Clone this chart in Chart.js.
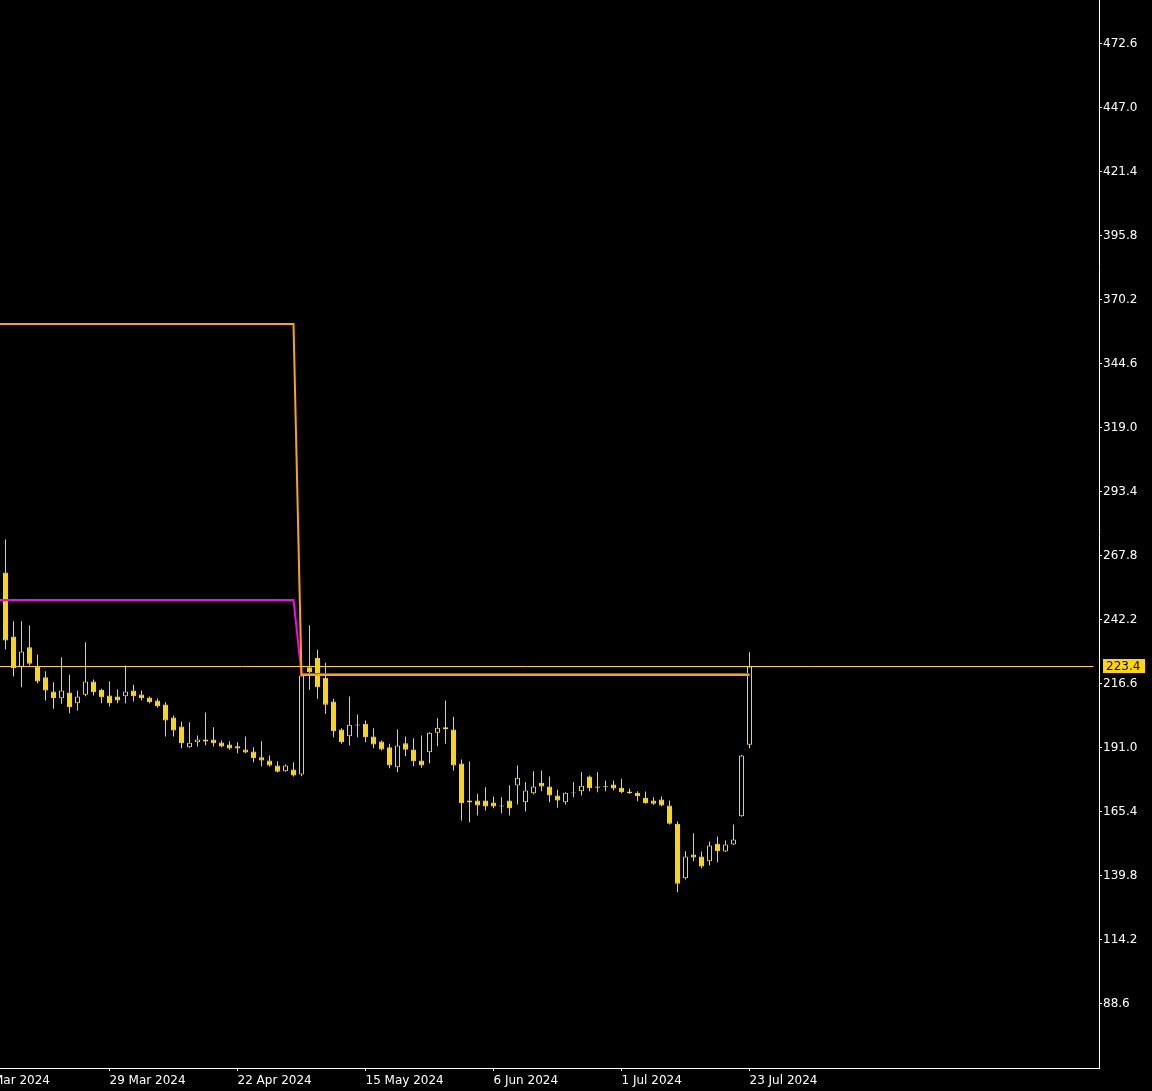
<!DOCTYPE html>
<html>
<head>
<meta charset="utf-8">
<script src="https://cdn.jsdelivr.net/npm/chart.js@4.4.1/dist/chart.umd.min.js"></script>
<style>
  html, body { margin: 0; padding: 0; background: #000; overflow: hidden; }
  #wrap { position: relative; width: 1152px; height: 1091px; overflow: hidden; }
  #chart { position: absolute; left: -40px; top: 0; }
</style>
</head>
<body>
<div id="wrap"><canvas id="chart" width="1192" height="1091"></canvas></div>
<script>
// daily candles, bar index 0 = first visible bar, 93 = 23 Jul 2024
const opens = [
  261.0, 235.4, 223.1, 231.1, 223.4, 219.1, 213.4, 210.7, 213.0, 208.7,
  212.1, 217.4, 214.1, 211.8, 211.4, 211.5, 213.8, 212.2, 211.0, 209.8,
  208.2, 203.0, 199.4, 191.1, 193.1, 194.2, 194.2, 193.0, 192.2, 191.5,
  190.2, 189.4, 187.1, 185.8, 183.8, 181.5, 182.2, 180.2, 223.1, 226.9,
  218.9, 209.4, 198.2, 195.5, 200.2, 200.5, 195.4, 193.4, 191.1, 183.1,
  192.7, 190.2, 185.8, 189.1, 196.9, 199.1, 198.2, 184.6, 169.8, 169.8,
  169.8, 169.0, 167.4, 169.8, 175.8, 169.1, 172.7, 176.9, 175.4, 171.8,
  169.1, 173.0, 173.5, 179.4, 175.4, 175.5, 176.2, 174.9, 173.4, 172.9,
  170.9, 169.8, 170.2, 167.8, 160.5, 138.7, 148.2, 147.4, 145.5, 152.5,
  149.4, 152.2, 163.5, 192.1
];
const highs = [
  274.2, 241.5, 241.5, 239.8, 228.2, 221.5, 217.1, 227.1, 220.1, 213.8,
  233.1, 218.2, 214.5, 217.4, 214.2, 223.8, 216.1, 213.8, 211.4, 210.6,
  209.1, 203.8, 201.4, 201.1, 195.8, 205.0, 199.1, 193.8, 193.5, 193.1,
  195.4, 191.1, 193.5, 187.8, 185.5, 184.2, 185.1, 220.6, 239.8, 230.1,
  224.9, 210.5, 198.7, 211.4, 204.2, 201.8, 198.7, 193.8, 192.5, 198.2,
  195.4, 194.7, 195.8, 197.1, 202.7, 209.8, 203.3, 186.2, 185.4, 172.5,
  175.1, 171.4, 171.1, 175.8, 183.8, 177.1, 181.5, 181.8, 179.4, 174.1,
  173.1, 177.1, 181.1, 179.8, 181.1, 177.8, 177.8, 178.5, 174.5, 173.5,
  173.4, 171.1, 171.4, 169.8, 161.4, 149.5, 156.7, 149.4, 153.4, 155.4,
  153.8, 160.2, 188.0, 229.1
];
const lows = [
  230.2, 219.4, 215.1, 223.8, 216.7, 209.8, 206.5, 208.5, 204.7, 205.8,
  211.5, 211.8, 208.7, 207.4, 208.7, 208.7, 209.4, 209.8, 208.7, 206.9,
  195.4, 195.4, 190.7, 190.9, 191.4, 191.9, 191.4, 191.1, 190.1, 188.7,
  188.7, 185.1, 183.5, 183.4, 181.1, 181.3, 179.4, 179.5, 214.1, 210.5,
  204.5, 195.1, 192.5, 191.8, 195.1, 193.1, 190.7, 189.8, 182.7, 181.1,
  187.5, 183.5, 182.9, 184.7, 191.5, 192.5, 181.8, 161.8, 161.1, 163.8,
  165.8, 166.7, 164.7, 163.8, 168.2, 165.4, 172.2, 173.5, 169.1, 166.9,
  168.2, 171.1, 171.8, 173.5, 173.1, 173.5, 173.8, 172.7, 172.5, 169.5,
  168.5, 168.1, 167.5, 160.2, 133.1, 138.2, 145.5, 142.7, 143.8, 145.1,
  149.2, 152.0, 163.3, 190.7
];
const closes = [
  233.8, 222.7, 229.4, 224.5, 217.4, 213.8, 210.7, 213.8, 207.1, 211.4,
  217.4, 213.1, 211.1, 208.7, 209.8, 213.4, 211.5, 210.7, 209.1, 207.5,
  201.8, 197.8, 192.7, 192.9, 194.2, 193.4, 192.7, 191.4, 190.6, 190.6,
  189.0, 186.7, 185.8, 183.8, 181.3, 183.8, 179.8, 219.8, 221.1, 215.1,
  208.1, 197.5, 193.1, 200.1, 199.8, 195.1, 192.2, 190.2, 183.8, 191.8,
  190.1, 185.5, 183.8, 196.9, 198.9, 198.3, 183.8, 168.7, 169.0, 167.8,
  167.4, 167.4, 167.8, 166.7, 178.9, 173.8, 175.4, 175.4, 171.8, 169.8,
  172.9, 172.7, 175.7, 174.7, 174.9, 175.1, 174.6, 173.1, 172.7, 171.5,
  168.7, 168.5, 167.8, 160.5, 136.5, 147.4, 147.0, 143.4, 151.8, 149.5,
  152.2, 154.2, 187.8, 223.4
];

// indicator levels (orange / magenta), as bar index -> value
const levelIdx = [-6, 36, 37, 93];
const orangeLevel = [360.4, 360.4, 220.0, 220.0];
const magentaLevel = [250.0, 250.0, 220.4, 220.4];

const lastPrice = 223.4;

const tickIdx = [-3, 13, 29, 45, 61, 77, 93];
const tickLabels = ['7 Mar 2024', '29 Mar 2024', '22 Apr 2024', '15 May 2024', '6 Jun 2024', '1 Jul 2024', '23 Jul 2024'];
const yTicks = [88.6, 114.2, 139.8, 165.4, 191.0, 216.6, 242.2, 267.8, 293.4, 319.0, 344.6, 370.2, 395.8, 421.4, 447.0, 472.6];

const GOLD = '#ffd700';
const FONT = { family: 'DejaVu Sans', size: 12 };

const priceTag = {
  id: 'priceTag',
  afterDraw(chart) {
    const ctx = chart.ctx;
    const ys = chart.scales.y;
    const y = Math.floor(ys.getPixelForValue(lastPrice));
    const x = ys.left + 4;
    ctx.save();
    ctx.fillStyle = GOLD;
    ctx.fillRect(x, y - 7, 42, 14);
    ctx.fillStyle = '#000';
    ctx.font = '12px "DejaVu Sans"';
    ctx.textBaseline = 'middle';
    ctx.fillText(lastPrice.toFixed(1), x + 3, y + 1);
    ctx.restore();
  }
};

new Chart(document.getElementById('chart'), {
  type: 'bar',
  data: {
    datasets: [
      {
        type: 'line',
        data: [{ x: -6, y: lastPrice }, { x: 136, y: lastPrice }],
        borderColor: GOLD,
        borderWidth: 1,
        pointRadius: 0,
        order: -3
      },
      {
        type: 'line',
        data: levelIdx.map((x, i) => ({ x, y: orangeLevel[i] })),
        borderColor: '#ffa500',
        borderWidth: 2,
        pointRadius: 0,
        order: -2
      },
      {
        type: 'line',
        data: levelIdx.map((x, i) => ({ x, y: magentaLevel[i] })),
        borderColor: '#ff00ff',
        borderWidth: 2,
        pointRadius: 0,
        order: -1
      },
      {
        // candle bodies
        data: opens.map((o, i) => ({ x: i, y: [o, closes[i]] })),
        backgroundColor: c => closes[c.dataIndex] >= opens[c.dataIndex] ? '#000' : GOLD,
        borderColor: GOLD,
        borderWidth: 1,
        borderSkipped: false,
        inflateAmount: 0,
        barThickness: 5,
        grouped: false,
        order: 0
      },
      {
        // wicks
        data: lows.map((l, i) => ({ x: i, y: [l, highs[i]] })),
        backgroundColor: GOLD,
        borderWidth: 0,
        inflateAmount: 0,
        barThickness: 1,
        grouped: false,
        order: 1
      }
    ]
  },
  options: {
    responsive: false,
    animation: false,
    devicePixelRatio: 1,
    layout: { padding: 0 },
    plugins: {
      legend: { display: false },
      tooltip: { enabled: false }
    },
    scales: {
      x: {
        type: 'linear',
        position: 'bottom',
        min: -5.6875,
        max: 136.6875,
        offset: false,
        grid: { offset: false, drawOnChartArea: false, drawTicks: true, tickLength: 3, tickColor: '#fff' },
        border: { display: true, color: '#fff' },
        ticks: {
          color: '#fff',
          font: FONT,
          align: 'start',
          padding: 3,
          maxRotation: 0,
          minRotation: 0,
          autoSkip: false,
          callback: v => tickLabels[tickIdx.indexOf(v)]
        },
        afterBuildTicks: s => { s.ticks = tickIdx.map(v => ({ value: v })); },
        afterFit: s => { s.height = 23; s.paddingLeft = 0; s.paddingRight = 0; }
      },
      y: {
        type: 'linear',
        position: 'right',
        min: 62.8,
        max: 490.0,
        beginAtZero: false,
        grid: { drawOnChartArea: false, drawTicks: true, tickLength: 3, tickColor: '#fff' },
        border: { display: true, color: '#fff' },
        ticks: {
          color: '#fff',
          font: FONT,
          padding: 1,
          callback: v => v.toFixed(1)
        },
        afterBuildTicks: s => { s.ticks = yTicks.map(v => ({ value: v })); },
        afterFit: s => { s.width = 53; s.paddingTop = 0; s.paddingBottom = 0; }
      }
    }
  },
  plugins: [priceTag]
});
</script>
</body>
</html>
